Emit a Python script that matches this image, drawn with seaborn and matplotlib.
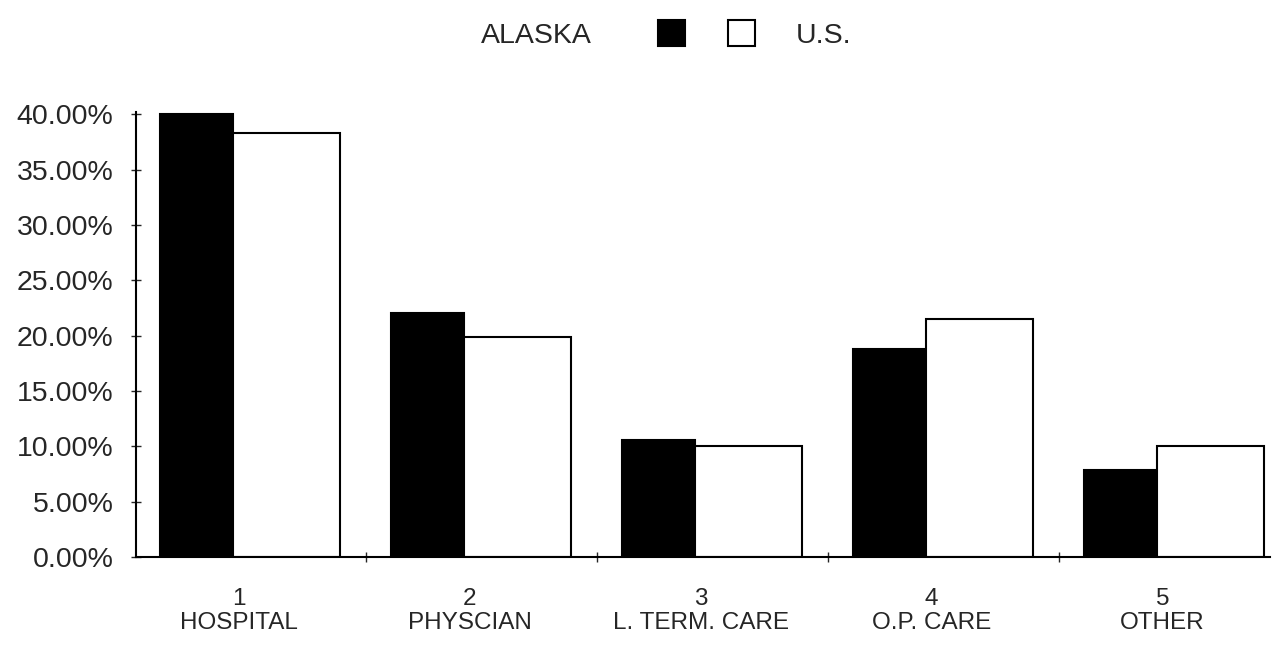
import pandas as pd
import matplotlib
matplotlib.use("Agg")
import matplotlib.pyplot as plt
import seaborn as sns
from matplotlib.ticker import PercentFormatter, FixedLocator

# data (percent of spending)
numbers = ["1", "2", "3", "4", "5"]
categories = ["HOSPITAL", "PHYSCIAN", "L. TERM. CARE", "O.P. CARE", "OTHER"]
alaska = [40.0, 22.0, 10.6, 18.8, 7.9]
us = [38.3, 19.9, 10.0, 21.5, 10.0]
regions = ["ALASKA", "U.S."]

df = pd.DataFrame({
    "category": categories * 2,
    "share": alaska + us,
    "region": [regions[0]] * len(categories) + [regions[1]] * len(categories),
})

sns.set_style("white")
plt.rcParams["font.family"] = ["Liberation Sans", "DejaVu Sans"]

fig = plt.figure(figsize=(12.74, 6.47), dpi=100)
ax = fig.add_axes([0.107, 0.139, 0.89, 0.688])

sns.barplot(data=df, x="category", y="share", hue="region",
            palette={"ALASKA": "black", "U.S.": "white"},
            edgecolor="black", linewidth=1.5, ax=ax)

# Alaska bars narrower than the U.S. bars, placed side by side
for i, bar in enumerate(ax.containers[0]):
    bar.set_x(i - 0.39)
    bar.set_width(0.316)
for i, bar in enumerate(ax.containers[1]):
    bar.set_x(i - 0.074)
    bar.set_width(0.463)

handles, labels = ax.get_legend_handles_labels()
ax.get_legend().remove()

ax.set_xlim(-0.494, 4.416)
ax.set_ylim(0, 40.2)
ax.yaxis.set_major_formatter(PercentFormatter(xmax=100, decimals=2))
ax.set_yticks(range(0, 41, 5))
ax.tick_params(axis="y", direction="inout", length=7, width=1, pad=13,
               labelsize=20.5, left=True)

ax.set_xticks([i - 0.05 for i in range(len(categories))])
ax.set_xticklabels([f"{n}\n{c}" for n, c in zip(numbers, categories)],
                   fontsize=17.5, linespacing=1.15)
ax.tick_params(axis="x", length=0, pad=22)
ax.xaxis.set_minor_locator(FixedLocator([i + 0.5 for i in range(len(categories) - 1)]))
ax.tick_params(axis="x", which="minor", direction="inout", length=7, width=1, bottom=True)

ax.set_xlabel("")
ax.set_ylabel("")
for side in ["top", "right"]:
    ax.spines[side].set_visible(False)
for side in ["left", "bottom"]:
    ax.spines[side].set_color("black")
    ax.spines[side].set_linewidth(1.5)

# legend: "ALASKA [black] [white] U.S."
fig.legend([handles[0]], ["ALASKA"], markerfirst=False, frameon=False,
           fontsize=20.5, handlelength=0.95, handleheight=1.05, handletextpad=2.3,
           loc="center", bbox_to_anchor=(0.4576, 0.947))
fig.legend([handles[1]], ["U.S."], frameon=False,
           fontsize=20.5, handlelength=0.95, handleheight=1.05, handletextpad=1.45,
           loc="center", bbox_to_anchor=(0.620, 0.947))

plt.savefig("out.png", dpi=100)
plt.close()
